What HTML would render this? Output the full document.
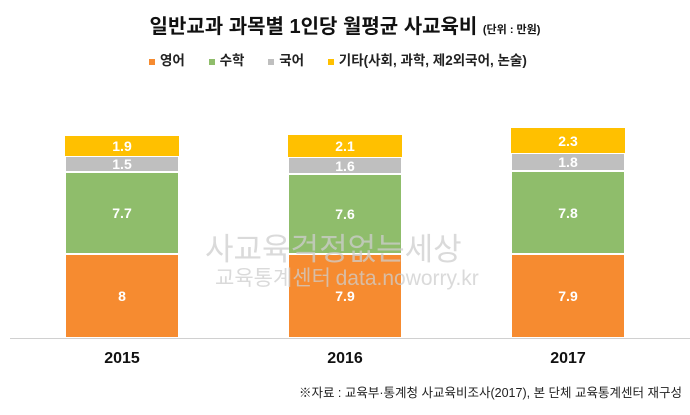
<!DOCTYPE html>
<html><head><meta charset="utf-8"><style>
body{margin:0;width:690px;height:415px;background:#fff;position:relative;overflow:hidden;font-family:"Liberation Sans","Noto Sans CJK KR",sans-serif}
.a{position:absolute}
.s{position:absolute;color:#fff;font-weight:bold;font-size:14px;display:flex;align-items:center;justify-content:center}
.o{background:#f68b30}.g{background:#8fbd6b}.y{background:#ffc000}.r{background:#bfbfbf}
.lab{position:absolute;font-weight:bold;font-size:16px;color:#111;width:120px;text-align:center;top:350px}
.wm{position:absolute;color:rgba(205,205,205,0.75);white-space:nowrap;font-family:"Noto Sans CJK KR",sans-serif}
</style></head><body>
<div class="a" style="left:0;width:690px;top:10px;text-align:center;font-weight:bold;font-size:20px;color:#111;white-space:nowrap">일반교과 과목별 1인당 월평균 사교육비 <span style="font-size:11px">(단위 : 만원)</span></div>
<div class="a" style="left:149px;top:49px;font-size:13.5px;font-weight:bold;color:#222;white-space:nowrap">
<span style="display:inline-block;width:6px;height:6px;background:#f68b30;margin-right:5px"></span>영어
<span style="display:inline-block;width:6px;height:6px;background:#8fbd6b;margin:0 5px 0 20px"></span>수학
<span style="display:inline-block;width:6px;height:6px;background:#bfbfbf;margin:0 5px 0 20px"></span>국어
<span style="display:inline-block;width:6px;height:6px;background:#ffc000;margin:0 5px 0 20px"></span>기타(사회, 과학, 제2외국어, 논술)</div>

<div class="s y" style="left:65px;width:114px;top:136px;height:20px">1.9</div>
<div class="s r" style="left:66px;width:112px;top:157px;height:14px">1.5</div>
<div class="s g" style="left:66px;width:112px;top:173px;height:80px">7.7</div>
<div class="s o" style="left:66px;width:112px;top:255px;height:82px">8</div>

<div class="s y" style="left:288px;width:114px;top:135px;height:22px">2.1</div>
<div class="s r" style="left:289px;width:112px;top:158px;height:15px">1.6</div>
<div class="s g" style="left:289px;width:112px;top:175px;height:78px">7.6</div>
<div class="s o" style="left:289px;width:112px;top:255px;height:82px">7.9</div>

<div class="s y" style="left:511px;width:114px;top:128px;height:25px">2.3</div>
<div class="s r" style="left:512px;width:112px;top:154px;height:16px">1.8</div>
<div class="s g" style="left:512px;width:112px;top:172px;height:81px">7.8</div>
<div class="s o" style="left:512px;width:112px;top:255px;height:82px">7.9</div>

<div class="a" style="left:10px;width:680px;top:338px;height:1px;background:#d0d0d0"></div>
<div class="lab" style="left:62px">2015</div>
<div class="lab" style="left:285px">2016</div>
<div class="lab" style="left:508px">2017</div>

<div class="wm" style="left:205px;top:224px;font-size:31px">사교육걱정없는세상</div>
<div class="wm" style="left:215px;top:262px;font-size:21px">교육통계센터 <span style="font-family:'Liberation Sans',sans-serif">data.noworry.kr</span></div>

<div class="a" style="right:8px;top:382px;font-size:12.5px;color:#222;white-space:nowrap">※자료 : 교육부·통계청 사교육비조사(2017), 본 단체 교육통계센터 재구성</div>
</body></html>
